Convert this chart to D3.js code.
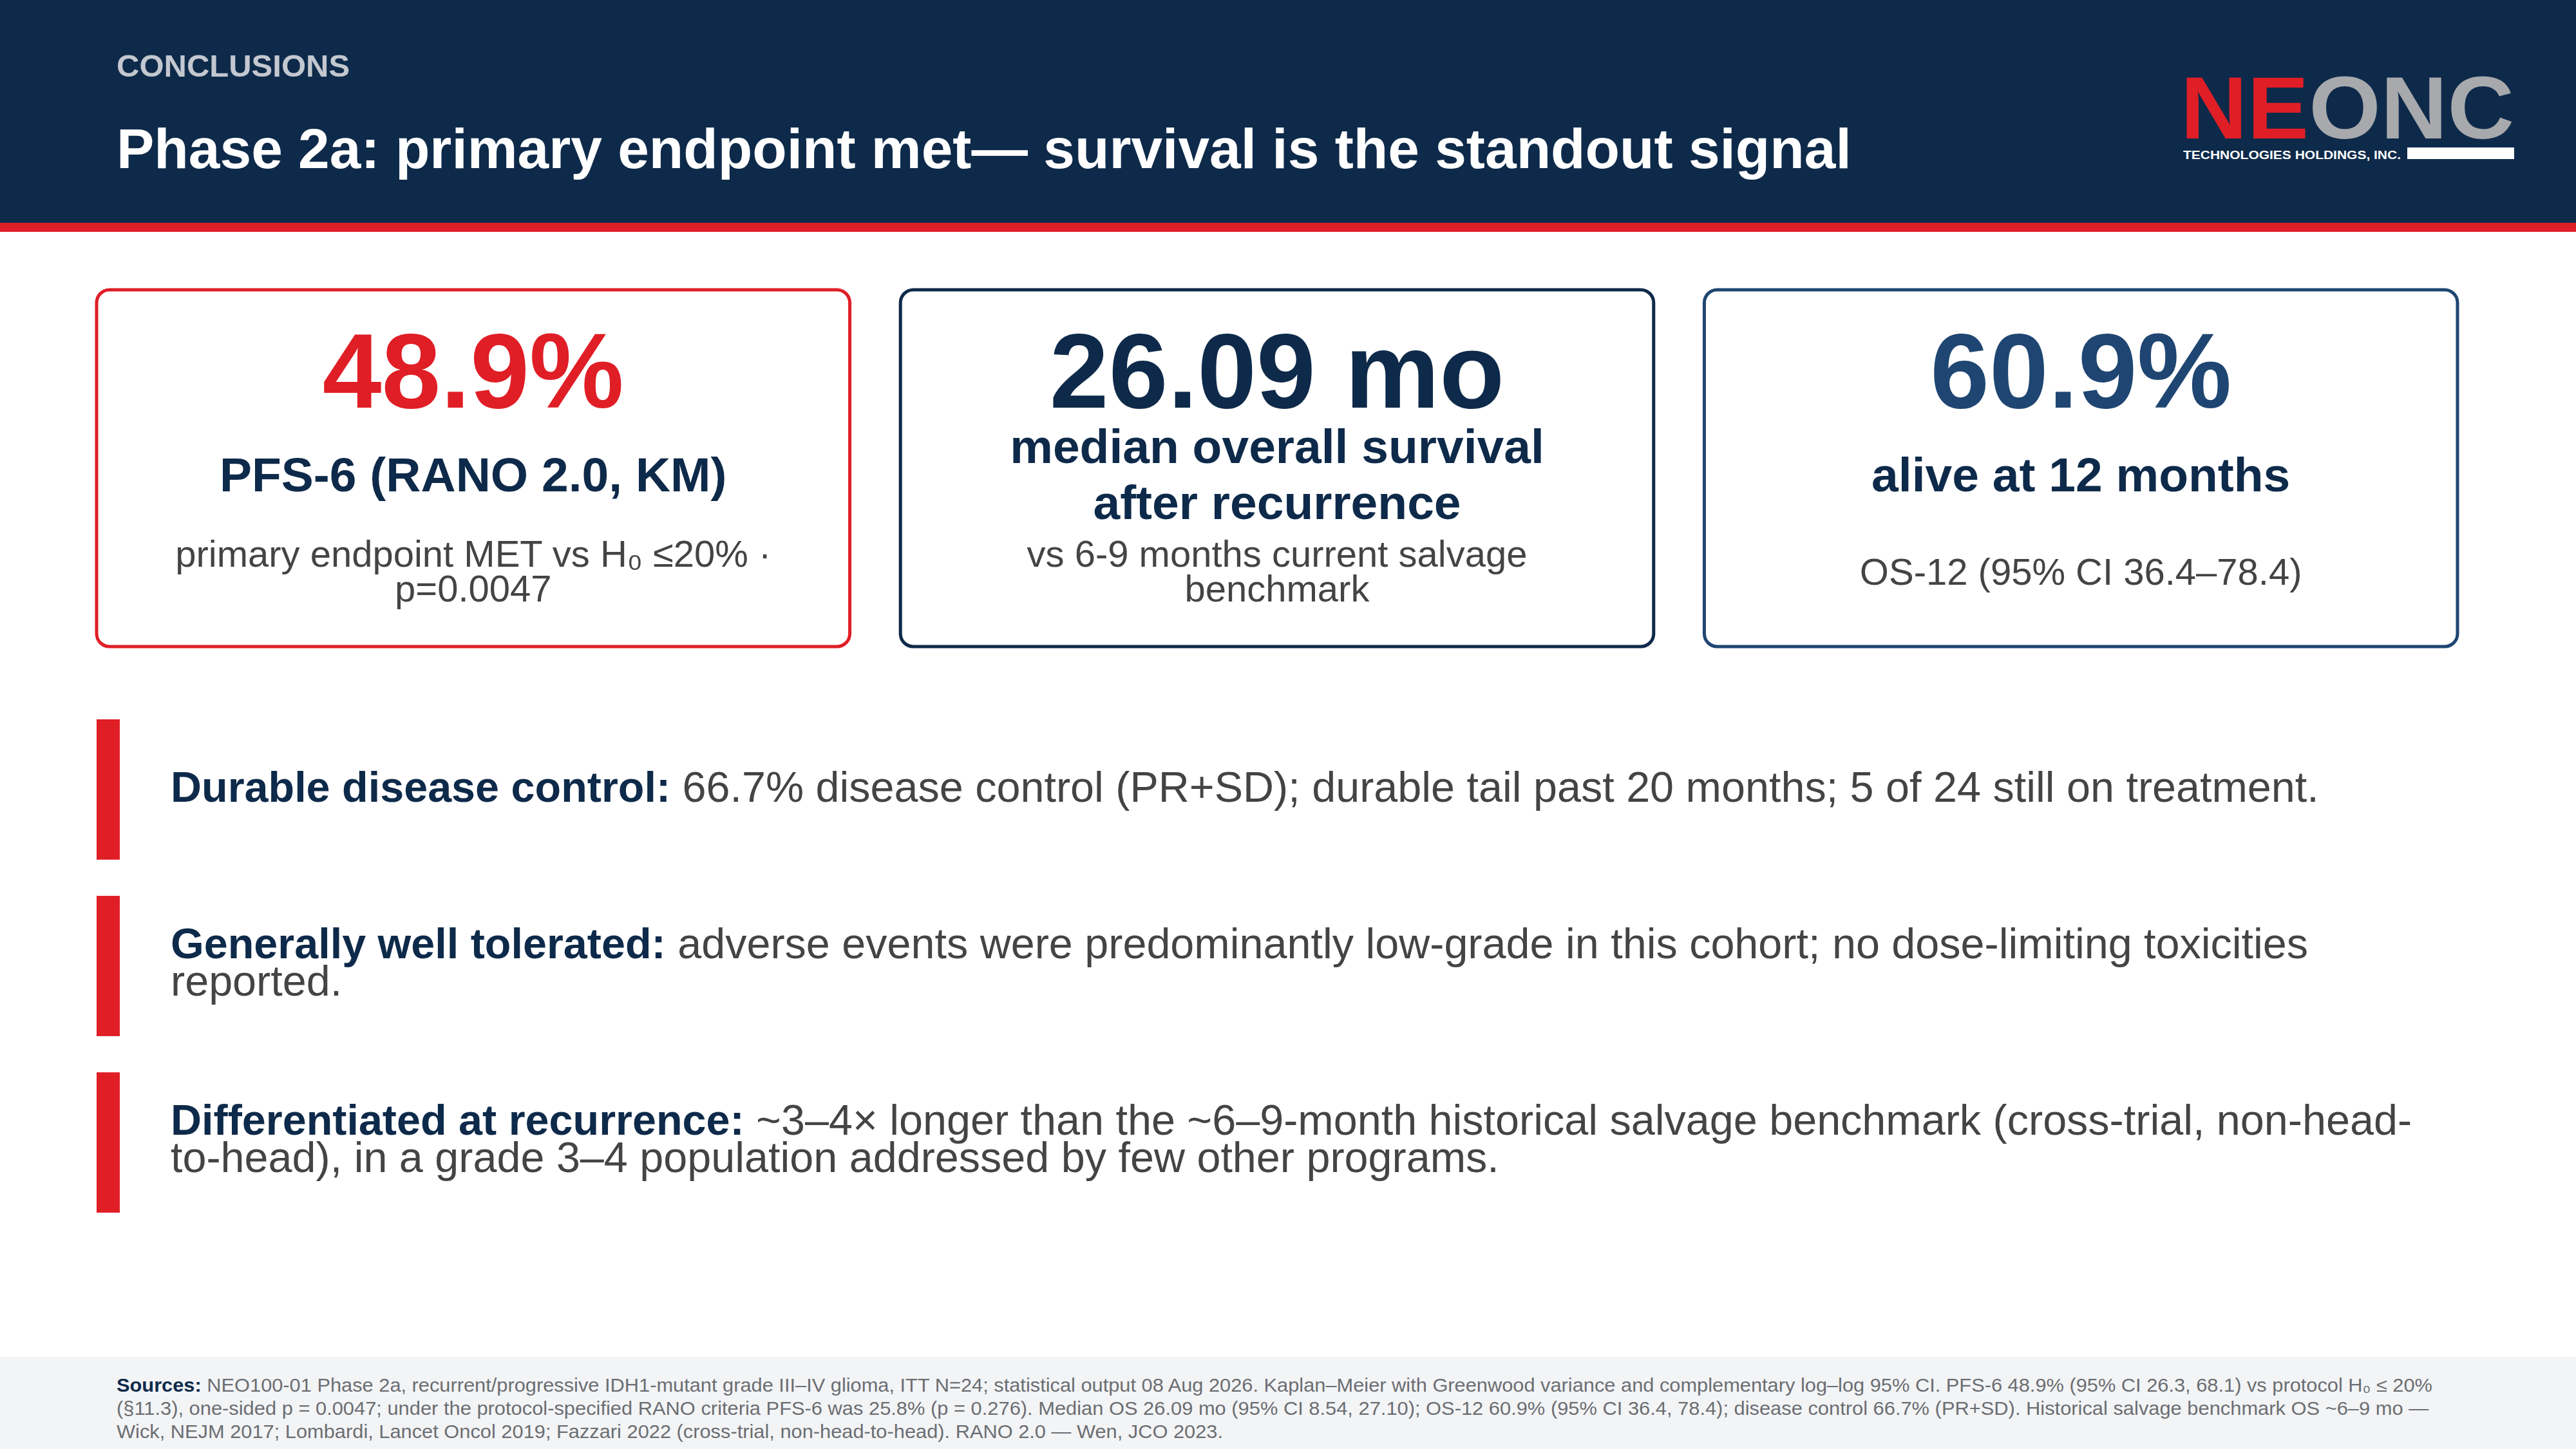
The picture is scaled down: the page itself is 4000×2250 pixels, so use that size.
<!DOCTYPE html>
<html><head><meta charset="utf-8">
<script src="https://cdn.jsdelivr.net/npm/d3@7"></script>
<style>body{margin:0;background:#fff}svg{display:block}text{font-family:"Liberation Sans",Arial,sans-serif}</style>
</head><body><svg id="slide" width="4000" height="2250"></svg>
<script>
const NAVY = '#0e2a4a', RED = '#e01e26', GRAY = '#444';

// Card content
const cardValues = ['48.9%', '26.09 mo', '60.9%'];
const cardValueColors = [RED, NAVY, '#1f4672'];
const cardBorders = [RED, NAVY, '#1f4672'];
const cardHeads = [['PFS-6 (RANO 2.0, KM)'], ['median overall survival', 'after recurrence'], ['alive at 12 months']];
const cardNotes = [['primary endpoint MET vs H\u2080 \u226420% \u00b7', 'p=0.0047'],
                   ['vs 6-9 months current salvage', 'benchmark'],
                   ['OS-12 (95% CI 36.4\u201378.4)']];

// Bullets
const bulletHeads = ['Durable disease control:', 'Generally well tolerated:', 'Differentiated at recurrence:'];
const bulletBodies = [
  [' 66.7% disease control (PR+SD); durable tail past 20 months; 5 of 24 still on treatment.'],
  [' adverse events were predominantly low-grade in this cohort; no dose-limiting toxicities', 'reported.'],
  [' ~3\u20134\u00d7 longer than the ~6\u20139-month historical salvage benchmark (cross-trial, non-head-', 'to-head), in a grade 3\u20134 population addressed by few other programs.']
];

const footerLines = [
  'NEO100-01 Phase 2a, recurrent/progressive IDH1-mutant grade III\u2013IV glioma, ITT N=24; statistical output 08 Aug 2026. Kaplan\u2013Meier with Greenwood variance and complementary log\u2013log 95% CI. PFS-6 48.9% (95% CI 26.3, 68.1) vs protocol H\u2080 \u2264 20%',
  '(\u00a711.3), one-sided p = 0.0047; under the protocol-specified RANO criteria PFS-6 was 25.8% (p = 0.276). Median OS 26.09 mo (95% CI 8.54, 27.10); OS-12 60.9% (95% CI 36.4, 78.4); disease control 66.7% (PR+SD). Historical salvage benchmark OS ~6\u20139 mo \u2014',
  'Wick, NEJM 2017; Lombardi, Lancet Oncol 2019; Fazzari 2022 (cross-trial, non-head-to-head). RANO 2.0 \u2014 Wen, JCO 2023.'
];

const svg = d3.select('#slide');

// Header
svg.append('rect').attr('width', 4000).attr('height', 346).attr('fill', NAVY);
svg.append('rect').attr('y', 346).attr('width', 4000).attr('height', 14).attr('fill', RED);
svg.append('text').attr('x', 181).attr('y', 119).attr('font-size', 49).attr('font-weight', 700)
   .attr('fill', '#c3c7cf').text('CONCLUSIONS');
svg.append('text').attr('x', 181).attr('y', 261).attr('font-size', 87.5).attr('font-weight', 700)
   .attr('fill', '#fff').text('Phase 2a: primary endpoint met\u2014 survival is the standout signal');

// Logo
const logo = svg.append('g');
const lt = logo.append('text').attr('x', 3386).attr('y', 215).attr('font-size', 138).attr('font-weight', 700)
   .attr('textLength', 518).attr('lengthAdjust', 'spacingAndGlyphs');
lt.append('tspan').attr('fill', RED).text('NE');
lt.append('tspan').attr('fill', '#a7a9ad').text('ONC');
logo.append('text').attr('x', 3390).attr('y', 247).attr('font-size', 19).attr('font-weight', 700)
   .attr('fill', '#fff').attr('textLength', 338).attr('lengthAdjust', 'spacingAndGlyphs')
   .text('TECHNOLOGIES HOLDINGS, INC.');
logo.append('rect').attr('x', 3738).attr('y', 229).attr('width', 166).attr('height', 18).attr('fill', '#fff');

// Cards
const cardX = d3.scaleBand().domain(d3.range(3)).range([150, 3816]).paddingInner(0.063);
const cards = svg.selectAll('g.card').data(cardValues).join('g').attr('class', 'card')
   .attr('transform', (d, i) => `translate(${cardX(i)},450)`);
const cw = cardX.bandwidth();
cards.append('rect').attr('width', cw).attr('height', 554).attr('rx', 20)
   .attr('fill', '#fff').attr('stroke', (d, i) => cardBorders[i]).attr('stroke-width', 5);
cards.append('text').attr('x', cw / 2).attr('y', 183).attr('text-anchor', 'middle')
   .attr('font-size', 165).attr('font-weight', 700).attr('fill', (d, i) => cardValueColors[i]).text(d => d);
cards.each(function(d, i) {
  const g = d3.select(this);
  const heads = cardHeads[i];
  const hy = heads.length === 1 ? [313] : [269, 356];
  heads.forEach((h, j) => g.append('text').attr('x', cw / 2).attr('y', hy[j]).attr('text-anchor', 'middle')
     .attr('font-size', 75).attr('font-weight', 700).attr('fill', NAVY).text(h));
  const notes = cardNotes[i];
  const ny = notes.length === 1 ? [458] : [430, 484];
  notes.forEach((n, j) => g.append('text').attr('x', cw / 2).attr('y', ny[j]).attr('text-anchor', 'middle')
     .attr('font-size', 58).attr('fill', GRAY).text(n));
});

// Bullets
const bulletY = d3.scaleBand().domain(d3.range(3)).range([1117, 1883]).paddingInner(0.205);
const bullets = svg.selectAll('g.bullet').data(bulletHeads).join('g').attr('class', 'bullet')
   .attr('transform', (d, i) => `translate(150,${bulletY(i)})`);
bullets.append('rect').attr('width', 36).attr('height', bulletY.bandwidth()).attr('fill', RED);
bullets.each(function(d, i) {
  const g = d3.select(this);
  const lines = bulletBodies[i];
  const y0 = lines.length === 1 ? 128 : 97;
  lines.forEach((ln, j) => {
    const t = g.append('text').attr('x', 115).attr('y', y0 + j * 58).attr('font-size', 66.5).attr('fill', GRAY);
    if (j === 0) t.append('tspan').attr('font-weight', 700).attr('fill', NAVY).text(d);
    t.append('tspan').text(ln);
  });
});

// Footer
svg.append('rect').attr('y', 2107).attr('width', 4000).attr('height', 143).attr('fill', '#f3f4f6');
const fLens = [3596, 3590, 1718];
footerLines.forEach((ln, j) => {
  const t = svg.append('text').attr('x', 181).attr('y', 2161 + j * 36).attr('font-size', 29).attr('fill', '#6b6e72')
     .attr('textLength', fLens[j]).attr('lengthAdjust', 'spacingAndGlyphs');
  if (j === 0) t.append('tspan').attr('font-weight', 700).attr('fill', NAVY).text('Sources: ');
  t.append('tspan').text(ln);
});
</script></body></html>
